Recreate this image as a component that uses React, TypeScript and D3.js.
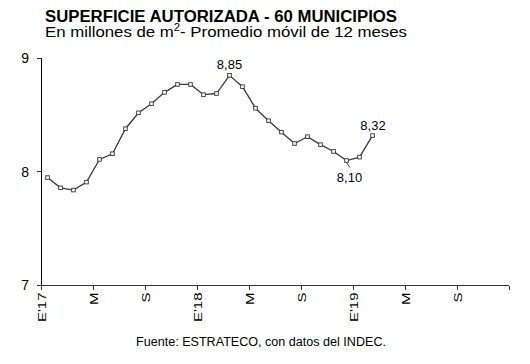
import React from "react";
import * as d3 from "d3";

// Monthly data: Jan 2017 .. Feb 2019 (millions of m², 12-month moving average)
const months = [
  "2017-01", "2017-02", "2017-03", "2017-04", "2017-05", "2017-06",
  "2017-07", "2017-08", "2017-09", "2017-10", "2017-11", "2017-12",
  "2018-01", "2018-02", "2018-03", "2018-04", "2018-05", "2018-06",
  "2018-07", "2018-08", "2018-09", "2018-10", "2018-11", "2018-12",
  "2019-01", "2019-02",
];
const values = [
  7.95, 7.86, 7.84, 7.91, 8.11, 8.16, 8.38, 8.52, 8.6, 8.7, 8.77, 8.77,
  8.68, 8.69, 8.85, 8.75, 8.56, 8.45, 8.35, 8.25, 8.31, 8.24, 8.18, 8.1,
  8.13, 8.32,
];
const xTickLabels = ["E'17", "M", "S", "E'18", "M", "S", "E'19", "M", "S"];
const yTicks = [7, 8, 9];
const labeledIndices = [14, 23, 25];

const W = 530;
const H = 364;
const FONT = "'Liberation Sans', Arial, Helvetica, sans-serif";

export default function App() {
  const totalMonths = 36;
  const x = d3.scaleLinear().domain([0, totalMonths]).range([41, 509]);
  const y = d3.scaleLinear().domain([7, 9]).range([285.5, 58.3]);
  const px = (i: number) => x(i + 0.5);

  const line = d3
    .line<number>()
    .x((_, i) => px(i))
    .y((d) => y(d));

  const fmt = (v: number) => d3.format(".2f")(v).replace(".", ",");
  const xTickVals = d3.range(0, totalMonths + 1, 4);

  // label placement relative to point
  const labelOffset: Record<number, { dx: number; dy: number; leader?: [number, number] }> = {
    14: { dx: 0, dy: -6.3 },
    23: { dx: 3, dy: 21, leader: [3.5, 7] },
    25: { dx: 0.5, dy: -5.8 },
  };

  return (
    <svg
      width={W}
      height={H}
      viewBox={`0 0 ${W} ${H}`}
      style={{ position: "absolute", left: 0, top: 0, background: "#fff", fontFamily: FONT }}
    >
      <rect x={0} y={0} width={W} height={H} fill="#fff" />
      {/* Title */}
      <text x={45} y={22} fontSize={16} fontWeight="bold" fill="#000" textLength={352} lengthAdjust="spacingAndGlyphs">
        SUPERFICIE AUTORIZADA - 60 MUNICIPIOS
      </text>
      <text x={45} y={36.5} fontSize={15} fill="#000" textLength={362} lengthAdjust="spacingAndGlyphs">
        <tspan>En millones de m</tspan>
        <tspan fontSize={10} dy={-5.5}>2</tspan>
        <tspan dy={5.5}>- Promedio móvil de 12 meses</tspan>
      </text>

      {/* Axes */}
      <g shapeRendering="crispEdges">
        <line x1={x(0)} x2={x(0)} y1={y(9)} y2={y(7)} stroke="#000" strokeWidth={1} />
        <line x1={x(0)} x2={x(totalMonths)} y1={y(7)} y2={y(7)} stroke="#333" strokeWidth={1} />
        {yTicks.map((t) => (
          <line key={"yt" + t} x1={x(0) - 4} x2={x(0)} y1={y(t)} y2={y(t)} stroke="#333" />
        ))}
        {xTickVals.map((t) => (
          <line key={"xt" + t} x1={x(t)} x2={x(t)} y1={y(7)} y2={y(7) + 4} stroke="#333" />
        ))}
      </g>
      {yTicks.map((t) => (
        <text key={"yl" + t} x={29} y={y(t)} dy="0.35em" textAnchor="end" fontSize={14} fill="#000">
          {t}
        </text>
      ))}
      {xTickLabels.map((lab, k) => (
        <g key={"xl" + k} transform={`translate(${x(xTickVals[k]) + 4.5},${y(7) + 7}) rotate(-90) scale(1.5,1)`}>
          <text x={0} y={0} textAnchor="end" fontSize={10} fill="#000">
            {lab}
          </text>
        </g>
      ))}

      {/* Series */}
      <path d={line(values) || ""} fill="none" stroke="#3a3a3a" strokeWidth={1.3} />
      {values.map((v, i) => (
        <rect
          key={months[i]}
          x={px(i) - 1.8}
          y={y(v) - 1.8}
          width={3.6}
          height={3.6}
          fill="#fff"
          stroke="#333"
          strokeWidth={0.9}
        />
      ))}

      {/* Value labels */}
      {labeledIndices.map((i) => {
        const o = labelOffset[i];
        const cx = px(i);
        const cy = y(values[i]);
        return (
          <g key={"lab" + i}>
            {o.leader && (
              <line x1={cx} y1={cy + 2} x2={cx + o.leader[0]} y2={cy + o.leader[1]} stroke="#444" strokeWidth={1} />
            )}
            <text x={cx + o.dx} y={cy + o.dy} textAnchor="middle" fontSize={13} fill="#000">
              {fmt(values[i])}
            </text>
          </g>
        );
      })}

      {/* Source */}
      <text x={136} y={346} fontSize={12.5} fill="#000" textLength={250} lengthAdjust="spacingAndGlyphs">
        Fuente: ESTRATECO, con datos del INDEC.
      </text>
    </svg>
  );
}
